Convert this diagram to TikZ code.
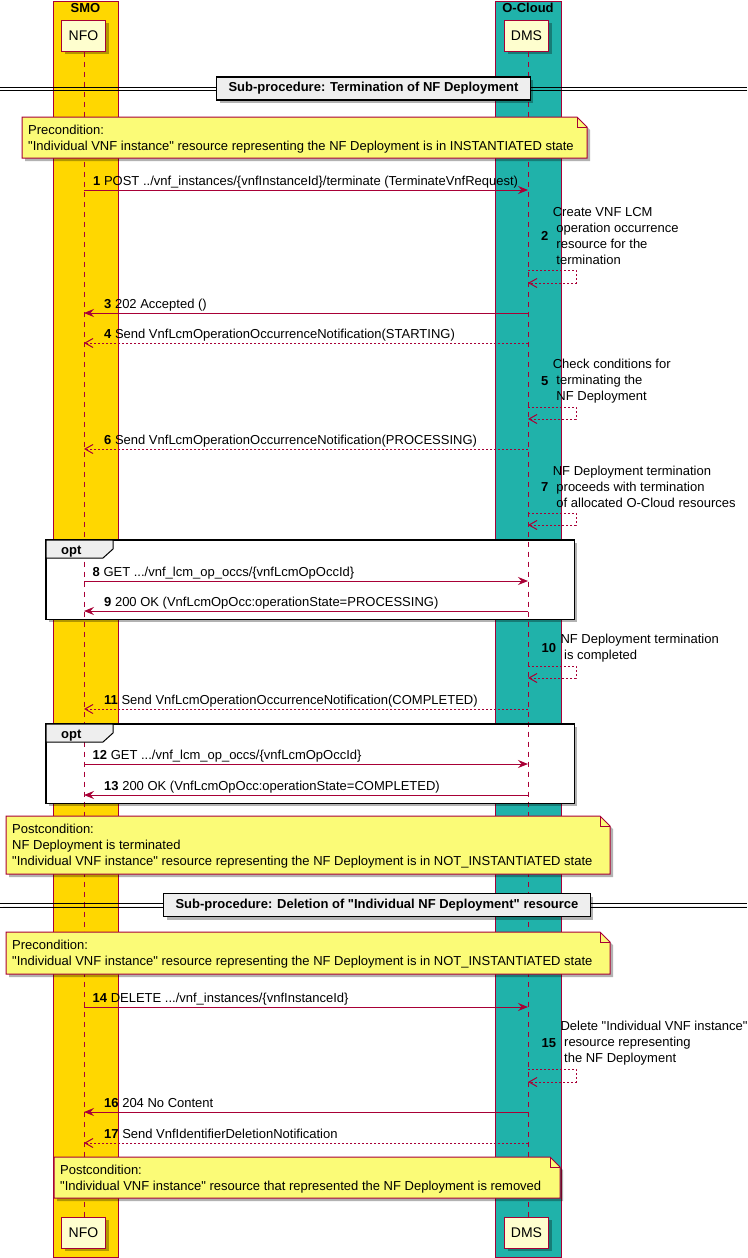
\documentclass[tikz,border=0pt]{standalone}
\usepackage{fontspec}
\setmainfont{Liberation Sans}[Ligatures=TeXOff]
\usetikzlibrary{arrows.meta,shadows}
\definecolor{crim}{HTML}{A80036}
\definecolor{smogold}{HTML}{FFD700}
\definecolor{cloudteal}{HTML}{20B2AA}
\definecolor{partfill}{HTML}{FEFECE}
\definecolor{notefill}{HTML}{FBFB77}
\definecolor{divfill}{HTML}{EEEEEE}
\newcommand\qd{\char34\relax}
\newcommand\mynotepath[4]{%
  \fill[black,opacity=0.3] (#1+3,#2+3) -- (#3-7,#2+3) -- (#3+3,#2+13) -- (#3+3,#4+3) -- (#1+3,#4+3) -- cycle;
  \draw[notestyle] (#1,#2) -- (#3-10,#2) -- (#3,#2+10) -- (#3,#4) -- (#1,#4) -- cycle;
  \draw[crim,line width=1pt] (#3-10,#2) -- (#3-10,#2+10) -- (#3,#2+10);}
\begin{document}
\begin{tikzpicture}[x=1pt,y=-1pt,font=\fontsize{13}{16}\selectfont,
  shad/.style={drop shadow={shadow xshift=3pt,shadow yshift=-3pt,opacity=0.3,fill=black}},
  column/.style={draw=crim,line width=1pt},
  participant/.style={draw=crim,fill=partfill,line width=1pt,minimum width=44pt,minimum height=31pt,inner sep=0pt,font=\fontsize{14}{16}\selectfont,shad},
  grouptitle/.style={font=\fontsize{13}{16}\selectfont\bfseries,inner sep=0pt},
  lifeline/.style={draw=crim,line width=1pt,dash pattern=on 5pt off 5pt},
  syncmsg/.style={draw=crim,line width=1pt,-{Stealth[length=10pt,width=8pt,inset=3.5pt]}},
  retmsg/.style={draw=crim,line width=1pt,dash pattern=on 2pt off 2pt,-{Straight Barb[length=8pt,width=9pt]}},
  msgtext/.style={inner sep=0pt,anchor=base west},
  selfnum/.style={inner sep=0pt,anchor=west,font=\fontsize{13}{16}\selectfont\bfseries},
  selftext/.style={inner sep=0pt,anchor=west,align=left},
  notestyle/.style={draw=crim,fill=notefill,line width=1pt},
  notetext/.style={inner sep=0pt,anchor=base west},
  divbox/.style={draw=black,fill=divfill,line width=1.5pt,inner xsep=12pt,minimum height=23pt,font=\fontsize{13}{16}\selectfont\bfseries,shad},
  optfill/.style={fill=white,shad},
  optborder/.style={draw=black,line width=1.5pt},
  opttab/.style={draw=black,fill=divfill,line width=1pt},
  opttext/.style={inner sep=0pt,anchor=base west,font=\fontsize{13}{16}\selectfont\bfseries}]
\useasboundingbox (0,0) rectangle (747,1258);
% columns
\filldraw[column,fill=smogold] (53,1) rectangle (118,1257);
\filldraw[column,fill=cloudteal] (495,1) rectangle (561,1257);
\node[grouptitle] (smot) at (85.5,8) {SMO};
\node[grouptitle] (ocloudt) at (528,8) {O-Cloud};
% opt fills
\node[optfill,minimum width=528pt,minimum height=79pt,inner sep=0pt,anchor=north west] (opt1) at (46,540) {};
\node[optfill,minimum width=528pt,minimum height=79pt,inner sep=0pt,anchor=north west] (opt2) at (46,724) {};
% participants and lifelines
\node[participant] (nfo) at (83.5,35.5) {NFO};
\node[participant] (dms) at (526.5,35.5) {DMS};
\node[participant] (nfob) at (83.5,1232.5) {NFO};
\node[participant] (dmsb) at (526.5,1232.5) {DMS};
\coordinate (nfotop) at (84,51.5);
\coordinate (nfobot) at (84,1216.5);
\coordinate (dmstop) at (528,51.5);
\coordinate (dmsbot) at (528,1216.5);
\draw[lifeline] (nfotop) -- (nfobot);
\draw[lifeline] (dmstop) -- (dmsbot);
% dividers
\coordinate (d1l) at (0,87);
\coordinate (d1r) at (747,87);
\coordinate (d1l2) at (0,90.5);
\coordinate (d1r2) at (747,90.5);
\draw[line width=1pt,shad] (d1l) -- (d1r);
\draw[line width=1pt] (d1l2) -- (d1r2);
\node[divbox] (div1) at (373.5,88.5) {Sub-procedure: Termination of NF Deployment};
\coordinate (d2l) at (0,903.5);
\coordinate (d2r) at (747,903.5);
\coordinate (d2l2) at (0,907);
\coordinate (d2r2) at (747,907);
\draw[line width=1pt,shad] (d2l) -- (d2r);
\draw[line width=1pt] (d2l2) -- (d2r2);
\node[divbox] (div2) at (377,905) {Sub-procedure: Deletion of \qd Individual NF Deployment\qd{} resource};
% notes
\mynotepath{22}{117}{587}{158}
\node[notetext] (n1a) at (28,134) {Precondition:};
\node[notetext] (n1b) at (28,150) {\qd Individual VNF instance\qd{} resource representing the NF Deployment is in INSTANTIATED state};
\mynotepath{6}{816}{610}{874}
\node[notetext] (n2a) at (12,833) {Postcondition:};
\node[notetext] (n2b) at (12,849) {NF Deployment is terminated};
\node[notetext] (n2c) at (12,865) {\qd Individual VNF instance\qd{} resource representing the NF Deployment is in NOT\_INSTANTIATED state};
\mynotepath{6}{932}{610}{974}
\node[notetext] (n3a) at (12,949) {Precondition:};
\node[notetext] (n3b) at (12,965) {\qd Individual VNF instance\qd{} resource representing the NF Deployment is in NOT\_INSTANTIATED state};
\mynotepath{54}{1157}{560}{1198}
\node[notetext] (n4a) at (60,1174) {Postcondition:};
\node[notetext] (n4b) at (60,1190) {\qd Individual VNF instance\qd{} resource that represented the NF Deployment is removed};
% message end points
\foreach \n/\y in {1/190,3/313,4/343,6/449,8/581,9/611,11/709,12/764,13/795,14/1007,16/1112,17/1143}{
  \coordinate (a\n) at (84,\y);
  \coordinate (b\n) at (528,\y);}
\foreach \n/\ya/\yb in {2/270/283,5/407/419,7/513/525,10/666/678,15/1069/1082}{
  \coordinate (s\n a) at (528,\ya);
  \coordinate (s\n b) at (528,\yb);}
% messages
\draw[syncmsg] (a1) -- (b1);
\node[msgtext] (t1) at (93,185.5) {\textbf{1} POST ../vnf\_instances/\{vnfInstanceId\}/terminate (TerminateVnfRequest)};
\draw[retmsg] (s2a) -- ++(48,0) |- (s2b);
\node[selfnum] (k2) at (541,236) {2};
\node[selftext] (u2) at ([xshift=4pt]k2.east) {Create VNF LCM\\~operation occurrence\\~resource for the\\~termination};
\draw[syncmsg] (b3) -- (a3);
\node[msgtext] (t3) at (104,308.5) {\textbf{3} 202 Accepted ()};
\draw[retmsg] (b4) -- (a4);
\node[msgtext] (t4) at (104,338.5) {\textbf{4} Send VnfLcmOperationOccurrenceNotification(STARTING)};
\draw[retmsg] (s5a) -- ++(48,0) |- (s5b);
\node[selfnum] (k5) at (541,381) {5};
\node[selftext] (u5) at ([xshift=4pt]k5.east) {Check conditions for\\~terminating the\\~NF Deployment};
\draw[retmsg] (b6) -- (a6);
\node[msgtext] (t6) at (104,444.5) {\textbf{6} Send VnfLcmOperationOccurrenceNotification(PROCESSING)};
\draw[retmsg] (s7a) -- ++(48,0) |- (s7b);
\node[selfnum] (k7) at (541,487) {7};
\node[selftext] (u7) at ([xshift=4pt]k7.east) {NF Deployment termination\\~proceeds with termination\\~of allocated O-Cloud resources};
\draw[syncmsg] (a8) -- (b8);
\node[msgtext] (t8) at (92.5,576.5) {\textbf{8} GET .../vnf\_lcm\_op\_occs/\{vnfLcmOpOccId\}};
\draw[syncmsg] (b9) -- (a9);
\node[msgtext] (t9) at (104,606.5) {\textbf{9} 200 OK (VnfLcmOpOcc:operationState=PROCESSING)};
\draw[retmsg] (s10a) -- ++(48,0) |- (s10b);
\node[selfnum] (k10) at (541.5,648) {10};
\node[selftext] (u10) at ([xshift=4pt]k10.east) {NF Deployment termination\\~is completed};
\draw[retmsg] (b11) -- (a11);
\node[msgtext] (t11) at (104,704.5) {\textbf{11} Send VnfLcmOperationOccurrenceNotification(COMPLETED)};
\draw[syncmsg] (a12) -- (b12);
\node[msgtext] (t12) at (92.5,759.5) {\textbf{12} GET .../vnf\_lcm\_op\_occs/\{vnfLcmOpOccId\}};
\draw[syncmsg] (b13) -- (a13);
\node[msgtext] (t13) at (104,790.5) {\textbf{13} 200 OK (VnfLcmOpOcc:operationState=COMPLETED)};
\draw[syncmsg] (a14) -- (b14);
\node[msgtext] (t14) at (92.5,1002.5) {\textbf{14} DELETE .../vnf\_instances/\{vnfInstanceId\}};
\draw[retmsg] (s15a) -- ++(48,0) |- (s15b);
\node[selfnum] (k15) at (541.5,1043) {15};
\node[selftext] (u15) at ([xshift=4pt]k15.east) {Delete \qd Individual VNF instance\qd\\~resource representing\\~the NF Deployment};
\draw[syncmsg] (b16) -- (a16);
\node[msgtext] (t16) at (104,1107.5) {\textbf{16} 204 No Content};
\draw[retmsg] (b17) -- (a17);
\node[msgtext] (t17) at (104,1138.5) {\textbf{17} Send VnfIdentifierDeletionNotification};
% opt borders and tabs
\draw[optborder] (opt1.north west) rectangle (opt1.south east);
\draw[opttab] (opt1.north west) -- ++(67,0) -- ++(0,9) -- ++(-10,9) -- ++(-57,0) -- cycle;
\node[opttext] (o1) at (61,554) {opt};
\draw[optborder] (opt2.north west) rectangle (opt2.south east);
\draw[opttab] (opt2.north west) -- ++(67,0) -- ++(0,9) -- ++(-10,9) -- ++(-57,0) -- cycle;
\node[opttext] (o2) at (61,738) {opt};
\end{tikzpicture}
\end{document}
